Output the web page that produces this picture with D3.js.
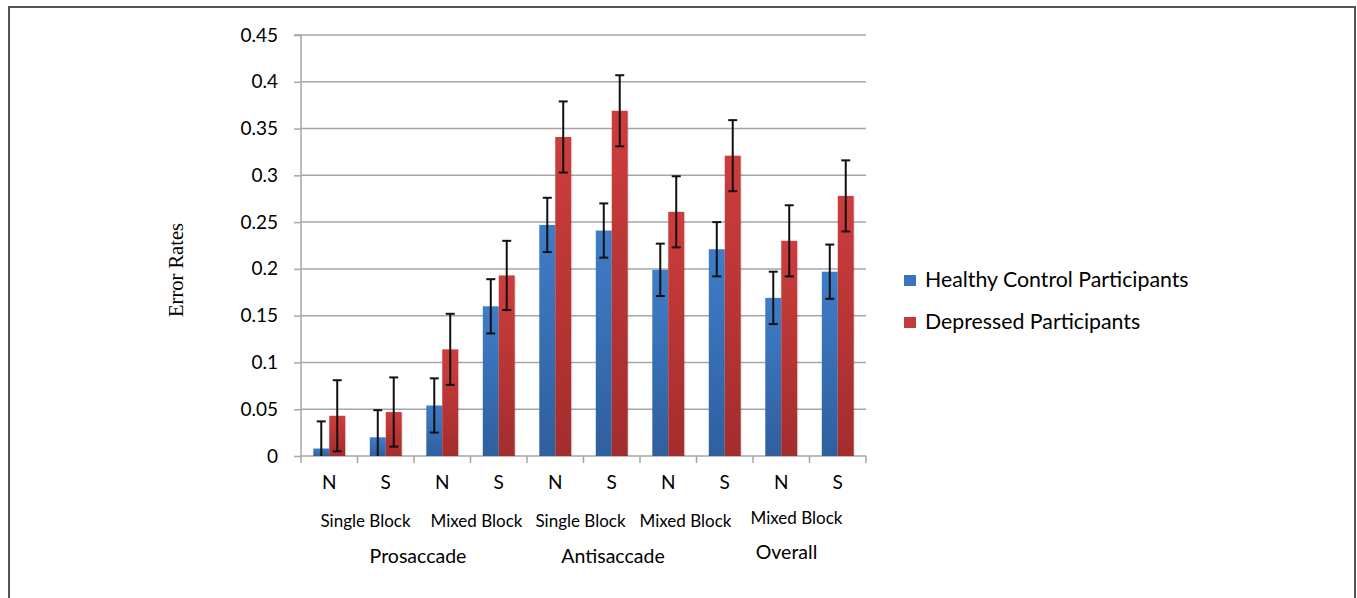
<!DOCTYPE html>
<html><head><meta charset="utf-8">
<script src="https://cdn.jsdelivr.net/npm/d3@7"></script>
<style>body{margin:0;background:#fff}svg{display:block}</style>
</head><body>
<svg id="c" width="1357" height="598"></svg>
<script>
const categories = ["N","S","N","S","N","S","N","S","N","S"];
const blockLabels = ["Single Block","Mixed Block","Single Block","Mixed Block","Mixed Block"];
const taskLabels = ["Prosaccade","Antisaccade","Overall"];
const seriesNames = ["Healthy Control Participants","Depressed Participants"];
const healthy = [0.008,0.020,0.054,0.160,0.247,0.241,0.199,0.221,0.169,0.197];
const depressed = [0.043,0.047,0.114,0.193,0.341,0.369,0.261,0.321,0.230,0.278];
const healthyErr = [0.029,0.029,0.029,0.029,0.029,0.029,0.028,0.029,0.028,0.029];
const depressedErr = [0.038,0.037,0.038,0.037,0.038,0.038,0.038,0.038,0.038,0.038];
const yTicks = [0,0.05,0.1,0.15,0.2,0.25,0.3,0.35,0.4,0.45];
const yTickLabels = ["0","0.05","0.1","0.15","0.2","0.25","0.3","0.35","0.4","0.45"];

(function(){
const svg = d3.select("#c");
const font = "Lato, 'Open Sans', sans-serif";
// frame
svg.append("path").attr("d","M9,610V7H1355V610").attr("fill","none").attr("stroke","#555").attr("stroke-width",2);

const pl=301,pr=866,pt=35,pb=456;
const x = d3.scaleBand().domain(d3.range(categories.length)).range([pl,pr]).paddingInner(0).paddingOuter(0);
const y = d3.scaleLinear().domain([0,0.45]).range([pb,pt]);
const xs = d3.scaleBand().domain([0,1]).range([0,x.bandwidth()]).paddingInner(0).paddingOuter(0.77);

const defs = svg.append("defs");
const gb = defs.append("linearGradient").attr("id","gb").attr("x1",0).attr("y1",0).attr("x2",0).attr("y2",1);
gb.append("stop").attr("offset","0").attr("stop-color","#3f7dc8");
gb.append("stop").attr("offset","1").attr("stop-color","#2f5f9e");
const gr = defs.append("linearGradient").attr("id","gr").attr("x1",0).attr("y1",0).attr("x2",0).attr("y2",1);
gr.append("stop").attr("offset","0").attr("stop-color","#cd3d3d");
gr.append("stop").attr("offset","1").attr("stop-color","#a32d2d");

// gridlines
svg.append("g").selectAll("line").data(yTicks.slice(1)).join("line")
  .attr("x1",pl).attr("x2",pr).attr("y1",d=>y(d)).attr("y2",d=>y(d))
  .attr("stroke","#a6a6a6").attr("stroke-width",1.5);

// y axis
const ya = d3.axisLeft(y).tickValues(yTicks).tickFormat((d,i)=>yTickLabels[i]).tickSize(7).tickPadding(16);
const yg = svg.append("g").attr("transform",`translate(${pl},0)`).call(ya);
yg.select(".domain").attr("stroke","#a6a6a6").attr("stroke-width",1.5).attr("d",`M-7,${pt}H0V${pb}`);
yg.selectAll(".tick line").attr("stroke","#a6a6a6").attr("stroke-width",1.5);
yg.selectAll(".tick text").attr("font-family",font).attr("font-size",19).attr("fill","#000");

// x axis
const xa = d3.axisBottom(x).tickFormat(i=>categories[i]).tickSize(0).tickPadding(20);
const xg = svg.append("g").attr("transform",`translate(0,${pb})`).call(xa);
xg.select(".domain").attr("stroke","#a6a6a6").attr("stroke-width",1.5).attr("d",`M${pl},0H${pr}`);
xg.selectAll(".tick text").attr("font-family",font).attr("font-size",19).attr("fill","#000");
svg.append("g").selectAll("line").data(d3.range(categories.length+1)).join("line")
  .attr("x1",i=>pl+i*x.bandwidth()).attr("x2",i=>pl+i*x.bandwidth())
  .attr("y1",pb).attr("y2",pb+7).attr("stroke","#a6a6a6").attr("stroke-width",1.5);

// bars
const data = [healthy,depressed], errs=[healthyErr,depressedErr], fills=["url(#gb)","url(#gr)"];
data.forEach((arr,s)=>{
  const g = svg.append("g");
  g.selectAll("rect.shadow").data(arr).join("rect").attr("class","shadow")
    .attr("x",(d,i)=>x(i)+xs(s)+1.2).attr("y",d=>y(d)+1).attr("width",xs.bandwidth())
    .attr("height",d=>pb-y(d)-1).attr("fill","#000").attr("opacity",0.1);
  g.selectAll("rect.bar").data(arr).join("rect").attr("class","bar")
    .attr("x",(d,i)=>x(i)+xs(s)).attr("y",d=>y(d)).attr("width",xs.bandwidth())
    .attr("height",d=>pb-y(d)).attr("fill",fills[s]);
});
// error bars
data.forEach((arr,s)=>{
  const g = svg.append("g").attr("stroke","#111").attr("stroke-width",2);
  arr.forEach((v,i)=>{
    const cx = x(i)+xs(s)+xs.bandwidth()/2;
    const hi = y(v+errs[s][i]), lo = y(Math.max(0,v-errs[s][i]));
    g.append("line").attr("x1",cx).attr("x2",cx).attr("y1",hi).attr("y2",lo);
    g.append("line").attr("x1",cx-4.5).attr("x2",cx+4.5).attr("y1",hi).attr("y2",hi);
    if (v-errs[s][i] > 0) g.append("line").attr("x1",cx-4.5).attr("x2",cx+4.5).attr("y1",lo).attr("y2",lo);
  });
});

// block labels (each spans two categories)
const blockOff = [8,6,-3,-11,-13], blockY=[527,527,527,527,524];
svg.append("g").selectAll("text").data(blockLabels).join("text")
  .attr("x",(d,i)=>x(2*i)+x.bandwidth()+blockOff[i]).attr("y",(d,i)=>blockY[i])
  .attr("text-anchor","middle").attr("font-family",font).attr("font-size",17).text(d=>d);
// task labels
const taskPos=[[0,4],[4,8],[8,10]], taskOff=[4,-27,-23], taskY=[563,563,559];
svg.append("g").selectAll("text").data(taskLabels).join("text")
  .attr("x",(d,i)=>(x(taskPos[i][0])+x(taskPos[i][1]-1)+x.bandwidth())/2+taskOff[i]).attr("y",(d,i)=>taskY[i])
  .attr("text-anchor","middle").attr("font-family",font).attr("font-size",19.5).text(d=>d);

// y title
svg.append("text").attr("transform","translate(183,270) rotate(-90)").attr("text-anchor","middle")
  .attr("font-family","'Liberation Serif','Times New Roman',serif").attr("font-size",20.5).text("Error Rates");

// legend
const lg = svg.append("g");
const legFill=["#3a74bd","#c23a3a"];
seriesNames.forEach((n,i)=>{
  const yy = 280+i*42;
  lg.append("rect").attr("x",904).attr("y",yy-5).attr("width",12).attr("height",11).attr("fill",legFill[i]);
  lg.append("text").attr("x",925).attr("y",yy+7).attr("font-family",font).attr("font-size",21.3).text(n);
});
})();
</script>
</body></html>
